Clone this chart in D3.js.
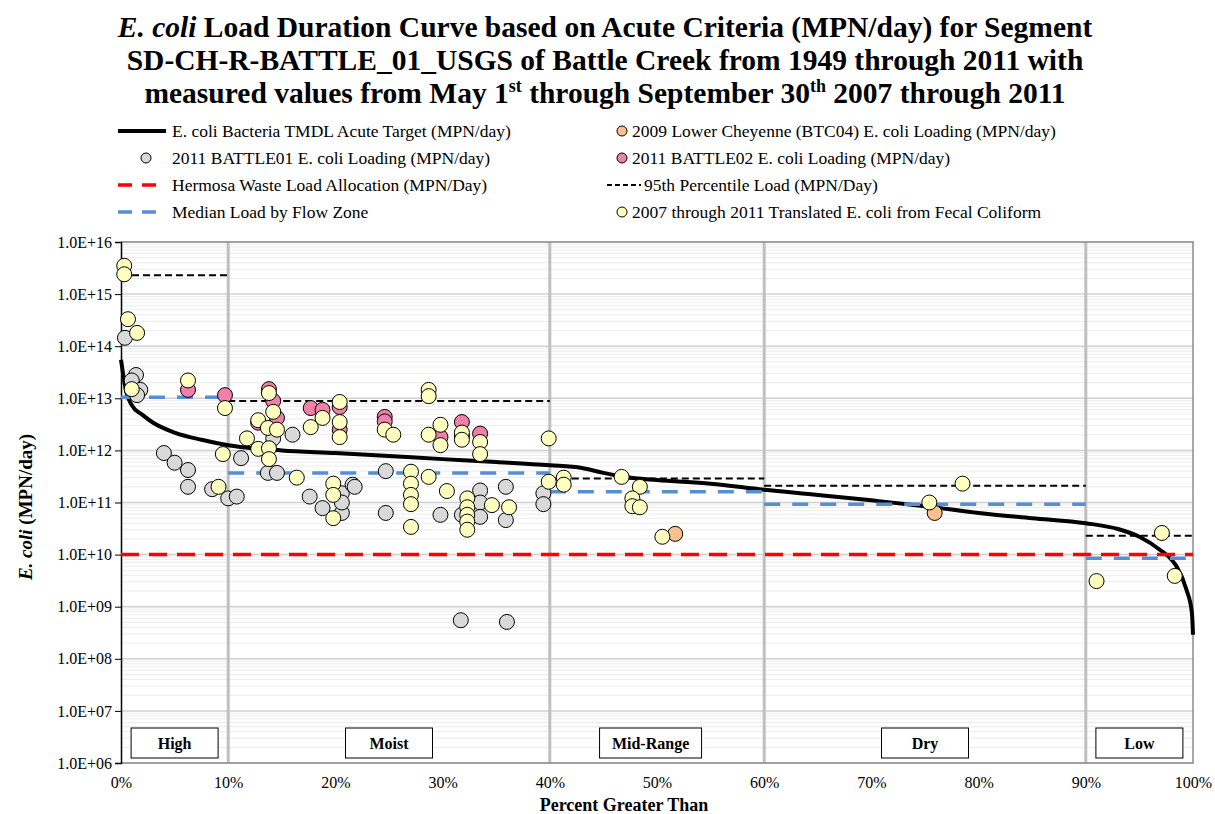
<!DOCTYPE html>
<html>
<head>
<meta charset="utf-8">
<script src="https://cdn.jsdelivr.net/npm/d3@7"></script>
<style>
	body { margin: 0; background: #fff; }
	svg { font-family: "Liberation Serif", "Times New Roman", serif; }
</style>
</head>
<body>
<svg id="chart" width="1215" height="814"></svg>
<script>
// Flow zones
const zoneNames = ["High", "Moist", "Mid-Range", "Dry", "Low"]
const zoneEdges = [0, 10, 40, 60, 90, 100]
const zoneLabelAt = [5, 25, 49.4, 75, 95]

// TMDL acute target (load duration curve)
const curvePct = [0, 0.5, 1, 2, 3, 5, 7.5, 10, 15, 20, 25, 30, 35, 40, 43, 45, 47, 50, 55, 60, 65, 70, 75, 80, 85, 90, 93, 95, 97, 98, 98.5, 99.4, 99.9, 100]
const curveLoad = [5.5e13, 1.3e13, 7.4e12, 4.8e12, 3.4e12, 2.2e12, 1.6e12, 1.26e12, 1.0e12, 8.9e11, 7.8e11, 6.8e11, 6.0e11, 5.2e11, 4.6e11, 3.7e11, 3.1e11, 2.7e11, 2.3e11, 1.75e11, 1.4e11, 1.1e11, 8.5e10, 6.3e10, 5.0e10, 4.0e10, 3.1e10, 2.2e10, 1.2e10, 8e9, 5.8e9, 2.1e9, 7.6e8, 2.9e8]

// Flow zone statistics
const medianLoad = [1.05e13, 3.7e11, 1.6e11, 9.3e10, 8.5e9]
const p95Load = [2.3e15, 8.9e12, 2.9e11, 2.1e11, 2.3e10]
const wlaLoad = 1e10

// Measured loads: [percent greater than, MPN/day]
const btc04 = [[51.7, 2.5e10], [75.9, 6.3e10]]
const battle01 = [
	[0.37, 1.45e14], [1.4, 2.8e13], [1.0, 2.2e13], [1.8, 1.45e13], [1.5, 1.15e13],
	[4.0, 8.9e11], [5.0, 5.8e11], [6.25, 4.2e11], [6.25, 2.0e11], [8.5, 1.8e11],
	[10.0, 1.2e11], [10.8, 1.3e11], [11.2, 7.1e11], [14.2, 1.7e12], [16.0, 2.0e12],
	[13.7, 3.7e11], [14.55, 3.7e11], [17.6, 1.3e11], [18.8, 7.8e10], [20.6, 6.3e10],
	[20.6, 1.5e11], [20.6, 1.0e11], [21.6, 2.2e11], [21.8, 2.0e11], [24.7, 4.0e11],
	[24.7, 6.3e10], [29.8, 5.8e10], [31.8, 5.8e10], [33.5, 1.7e11], [33.5, 1.0e11],
	[33.5, 5.3e10], [35.9, 2.0e11], [35.9, 4.6e10], [39.4, 1.5e11], [39.4, 9.3e10],
	[31.7, 5.5e8], [36.0, 5.1e8],
]
const battle02 = [
	[6.25, 1.45e13], [9.7, 1.15e13], [13.8, 1.5e13], [14.2, 8.9e12], [14.55, 4.2e12],
	[12.8, 3.4e12], [17.7, 6.5e12], [18.8, 6.0e12], [20.4, 6.8e12], [20.4, 2.5e12],
	[24.6, 4.4e12], [24.6, 3.6e12], [29.8, 1.8e12], [31.8, 3.5e12], [31.8, 1.9e12],
	[33.5, 2.1e12],
]
const translated = [
	[0.3, 3.5e15], [0.3, 2.4e15], [0.65, 3.3e14], [1.5, 1.8e14], [1.0, 1.5e13],
	[6.25, 2.2e13], [9.7, 6.5e12], [9.5, 8.5e11], [9.1, 2.0e11], [11.75, 1.7e12],
	[12.8, 3.8e12], [12.8, 1.07e12], [13.8, 1.26e13], [14.2, 5.5e12], [13.7, 2.7e12],
	[14.55, 2.5e12], [13.8, 1.1e12], [13.8, 6.8e11], [16.4, 3.0e11], [17.7, 2.8e12],
	[18.8, 4.2e12], [20.4, 8.5e12], [20.4, 3.5e12], [20.4, 1.8e12], [19.8, 2.3e11],
	[19.8, 1.4e11], [19.8, 5.0e10], [24.6, 2.5e12], [25.4, 2.0e12], [27.05, 3.9e11],
	[27.05, 2.3e11], [27.05, 1.4e11], [27.05, 9.3e10], [27.05, 3.4e10], [28.7, 1.45e13],
	[28.7, 1.1e13], [28.7, 2.0e12], [29.8, 3.1e12], [29.8, 1.26e12], [31.8, 2.2e12],
	[31.8, 1.6e12], [33.5, 1.45e12], [33.5, 8.5e11], [39.9, 1.7e12], [28.7, 3.1e11],
	[30.4, 1.66e11], [32.3, 1.2e11], [32.3, 8.1e10], [32.3, 5.8e10], [32.3, 4.3e10],
	[32.3, 3.0e10], [34.6, 8.9e10], [36.2, 8.1e10], [39.9, 2.5e11], [41.3, 3.0e11],
	[41.3, 2.2e11], [46.7, 3.1e11], [48.4, 2.0e11], [47.7, 1.2e11], [47.7, 8.5e10],
	[48.4, 8.1e10], [50.5, 2.2e10], [75.4, 1.0e11], [78.5, 2.3e11], [91.0, 3.1e9],
	[97.1, 2.6e10], [98.3, 3.9e9],
]

const yTicks = d3.range(6, 17).map(e => Math.pow(10, e))
const xTicks = d3.range(0, 101, 10)

const colours = {
	curve: "#000",
	btc04: "#fac090",
	battle01: "#d9d9d9",
	battle02: "#f080a8",
	wla: "#ff0000",
	p95: "#000",
	median: "#558ed5",
	translated: "#ffffc0",
}

const svg = d3.select("#chart")
const margin = { left: 121, right: 1193, top: 242, bottom: 763 }

const x = d3.scaleLinear().domain([0, 100]).range([margin.left, margin.right])
const y = d3.scaleLog().domain([1e6, 1e16]).range([margin.bottom, margin.top])

// Title
const title = svg.append("text")
	.attr("text-anchor", "middle")
	.attr("font-weight", "bold")
	.attr("font-size", 29.5)
let l1 = title.append("tspan").attr("x", 605).attr("y", 37)
l1.append("tspan").attr("font-style", "italic").text("E. coli")
l1.append("tspan").text(" Load Duration Curve based on Acute Criteria (MPN/day) for Segment")
title.append("tspan").attr("x", 605).attr("y", 70)
	.text("SD-CH-R-BATTLE_01_USGS of Battle Creek from 1949 through 2011 with")
let l3 = title.append("tspan").attr("x", 605).attr("y", 103)
l3.append("tspan").text("measured values from May 1")
l3.append("tspan").attr("font-size", 18).attr("dy", -11).text("st")
l3.append("tspan").attr("dy", 11).text(" through September 30")
l3.append("tspan").attr("font-size", 18).attr("dy", -11).text("th")
l3.append("tspan").attr("dy", 11).text(" 2007 through 2011")

// Grid
const plot = svg.append("g")
plot.append("rect")
	.attr("x", margin.left).attr("y", margin.top)
	.attr("width", margin.right - margin.left)
	.attr("height", margin.bottom - margin.top)
	.attr("fill", "#fff")

let minor = []
for (let e = 6; e < 16; e++)
	for (let m = 2; m < 10; m++) minor.push(m * Math.pow(10, e))
plot.selectAll("line.minor")
	.data(minor)
	.join("line")
	.attr("class", "minor")
	.attr("x1", margin.left).attr("x2", margin.right)
	.attr("y1", d => y(d)).attr("y2", d => y(d))
	.attr("stroke", "#ececec")
	.attr("stroke-width", 1)
plot.selectAll("line.major")
	.data(yTicks)
	.join("line")
	.attr("class", "major")
	.attr("x1", margin.left).attr("x2", margin.right)
	.attr("y1", d => y(d)).attr("y2", d => y(d))
	.attr("stroke", "#d0d0d0")
	.attr("stroke-width", 1.5)
plot.selectAll("line.zone")
	.data(zoneEdges.slice(1, -1))
	.join("line")
	.attr("class", "zone")
	.attr("x1", d => x(d)).attr("x2", d => x(d))
	.attr("y1", margin.top).attr("y2", margin.bottom)
	.attr("stroke", "#bfbfbf")
	.attr("stroke-width", 3)

// Border
plot.append("path")
	.attr("d", `M${margin.left},${margin.top}H${margin.right}V${margin.bottom}H${margin.left}`)
	.attr("fill", "none")
	.attr("stroke", "#8c8c8c")
	.attr("stroke-width", 1.5)

// Axes
const yAxis = d3.axisLeft(y)
	.tickValues(yTicks)
	.tickSize(6)
	.tickFormat(d => {
		let e = Math.round(Math.log10(d))
		return "1.0E" + (e < 10 ? "+0" : "+") + e
	})
svg.append("g")
	.attr("transform", `translate(${margin.left},0)`)
	.call(yAxis)
	.call(g => g.select(".domain").attr("stroke-width", 1.5))
	.call(g => g.selectAll("text")
		.attr("font-family", "Liberation Serif, serif")
		.attr("font-size", 16)
		.attr("fill", "#000")
		.attr("x", -9))

const xAxis = d3.axisBottom(x)
	.tickValues(xTicks)
	.tickSize(0)
	.tickFormat(d => d + "%")
svg.append("g")
	.attr("transform", `translate(0,${margin.bottom})`)
	.call(xAxis)
	.call(g => g.select(".domain").remove())
	.call(g => g.selectAll("text")
		.attr("font-family", "Liberation Serif, serif")
		.attr("font-size", 16)
		.attr("fill", "#000")
		.attr("y", 14))

// Axis titles
svg.append("text")
	.attr("x", 624).attr("y", 811)
	.attr("text-anchor", "middle")
	.attr("font-weight", "bold")
	.attr("font-size", 18)
	.text("Percent Greater Than")
let yTitle = svg.append("text")
	.attr("transform", `translate(32,507) rotate(-90)`)
	.attr("text-anchor", "middle")
	.attr("font-weight", "bold")
	.attr("font-size", 19)
yTitle.append("tspan").attr("font-style", "italic").text("E. coli")
yTitle.append("tspan").text(" (MPN/day)")

// Flow zone statistic lines
const zoneSegs = (values) => values.map((v, i) => ({ x1: zoneEdges[i], x2: zoneEdges[i + 1], v }))

const drawLevel = (cls, data, colour, width, dash) => {
	svg.append("g").selectAll("line." + cls)
		.data(data)
		.join("line")
		.attr("class", cls)
		.attr("x1", d => x(d.x1)).attr("x2", d => x(d.x2))
		.attr("y1", d => y(d.v)).attr("y2", d => y(d.v))
		.attr("stroke", colour)
		.attr("stroke-width", width)
		.attr("stroke-dasharray", dash)
}

// Load duration curve
const curve = d3.line()
	.x(d => x(d[0]))
	.y(d => y(d[1]))
	.curve(d3.curveMonotoneX)
svg.append("path")
	.datum(curvePct.map((p, i) => [p, curveLoad[i]]))
	.attr("d", curve)
	.attr("fill", "none")
	.attr("stroke", colours.curve)
	.attr("stroke-width", 4)

drawLevel("wla", [{ x1: 0, x2: 100, v: wlaLoad }], colours.wla, 3.5, "18,10")
drawLevel("p95", zoneSegs(p95Load), colours.p95, 2, "7,4")
drawLevel("median", zoneSegs(medianLoad), colours.median, 3.5, "16,12")

// Measured points
const drawPoints = (cls, data, colour) => {
	svg.append("g").selectAll("circle." + cls)
		.data(data)
		.join("circle")
		.attr("class", cls)
		.attr("cx", d => x(d[0]))
		.attr("cy", d => y(d[1]))
		.attr("r", 7.5)
		.attr("fill", colour)
		.attr("stroke", "#000")
		.attr("stroke-width", 1)
}
drawPoints("battle01", battle01, colours.battle01)
drawPoints("btc04", btc04, colours.btc04)
drawPoints("battle02", battle02, colours.battle02)
drawPoints("translated", translated, colours.translated)

// Flow zone labels
const zoneG = svg.append("g").selectAll("g.zoneLabel")
	.data(zoneNames)
	.join("g")
	.attr("class", "zoneLabel")
	.attr("transform", (d, i) => `translate(${x(zoneLabelAt[i])},743)`)
zoneG.append("rect")
	.attr("x", d => d === "Mid-Range" ? -51 : -43.5)
	.attr("width", d => d === "Mid-Range" ? 102 : 87)
	.attr("y", -15).attr("height", 30)
	.attr("fill", "#fff")
	.attr("stroke", "#000")
	.attr("stroke-width", 1)
zoneG.append("text")
	.attr("text-anchor", "middle")
	.attr("dy", "0.35em")
	.attr("font-weight", "bold")
	.attr("font-size", 16)
	.text(d => d)

// Legend
const legendItems = [
	{ col: 0, row: 0, type: "line", colour: colours.curve, width: 4, dash: null, label: "E. coli Bacteria TMDL Acute Target (MPN/day)" },
	{ col: 0, row: 1, type: "dot", colour: colours.battle01, label: "2011 BATTLE01 E. coli Loading (MPN/day)" },
	{ col: 0, row: 2, type: "line", colour: colours.wla, width: 3.5, dash: "14,10", label: "Hermosa Waste Load Allocation (MPN/Day)" },
	{ col: 0, row: 3, type: "line", colour: colours.median, width: 3.5, dash: "14,10", label: "Median Load by Flow Zone" },
	{ col: 1, row: 0, type: "dot", colour: colours.btc04, label: "2009 Lower Cheyenne (BTC04) E. coli Loading (MPN/day)" },
	{ col: 1, row: 1, type: "dot", colour: colours.battle02, label: "2011 BATTLE02 E. coli Loading (MPN/day)" },
	{ col: 1, row: 2, type: "line", colour: colours.p95, width: 2, dash: "5,3", label: "95th Percentile Load (MPN/Day)" },
	{ col: 1, row: 3, type: "dot", colour: colours.translated, label: "2007 through 2011 Translated E. coli from Fecal Coliform" },
]
const legend = svg.append("g").selectAll("g.legendItem")
	.data(legendItems)
	.join("g")
	.attr("class", "legendItem")
	.attr("transform", d => `translate(${d.col ? 607 : 118},${131 + d.row * 27})`)
legend.filter(d => d.type === "line").append("line")
	.attr("x1", 0).attr("x2", d => d.col ? 34 : 48)
	.attr("stroke", d => d.colour)
	.attr("stroke-width", d => d.width)
	.attr("stroke-dasharray", d => d.dash)
legend.filter(d => d.type === "dot").append("circle")
	.attr("cx", d => d.col ? 15 : 28)
	.attr("r", 5)
	.attr("fill", d => d.colour)
	.attr("stroke", "#000")
legend.append("text")
	.attr("x", d => d.col ? (d.type === "line" ? 37 : 25) : 54)
	.attr("dy", "0.33em")
	.attr("font-size", 17.5)
	.text(d => d.label)
</script>
</body>
</html>
